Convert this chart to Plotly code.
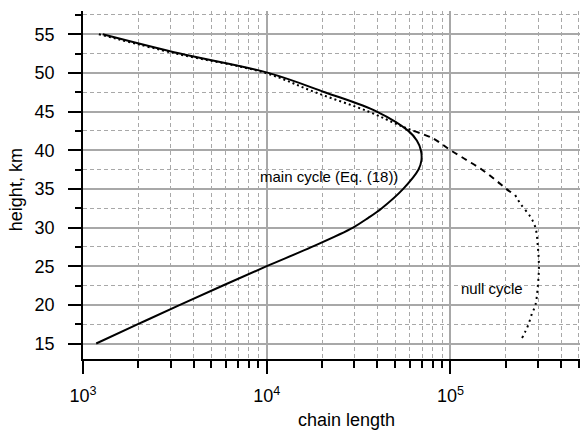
import plotly.graph_objects as go
import numpy as np

# ---- data ----
main_height = [15, 17.5, 20, 22.5, 25, 27.5, 30, 31.25, 32.5, 35, 37.5, 38.7, 40, 41.25, 42.5, 45, 47.5, 50, 52.5, 55]
main_length = [1180, 1990, 3370, 5780, 10000, 17600, 29500, 35700, 42300, 55300, 67000, 69500, 69000, 65600, 59000, 39700, 20700, 10200, 3370, 1280]

null_height = [55, 52.5, 50, 47.5, 45, 43.2, 42.5, 41.5, 40, 38.7, 37.5, 36.2, 35, 34.2, 33.1, 31.4, 30, 27.5, 25, 22.5, 20, 18.8, 17.5, 16.5, 15.7]
null_length = [1220, 3200, 9800, 18300, 35700, 53000, 62900, 80700, 100000, 123000, 148000, 175000, 201000, 225000, 240000, 272000, 290000, 299000, 303000, 299000, 290000, 277000, 266000, 255000, 245000]

x_tick_vals = [1e3, 1e4, 1e5]
x_tick_text = ["10<sup>3</sup>", "10<sup>4</sup>", "10<sup>5</sup>"]
x_title = "chain length"
y_title = "height, km"
label_main = "main cycle (Eq. (18))"
label_null = "null cycle"

FONT = "Liberation Sans, Arial, sans-serif"

minor_x = [m * 10 ** k for k in (3, 4, 5) for m in range(2, 10)]

fig = go.Figure()

# null cycle drawn in three segments with differing dash rhythm
seg1 = slice(0, 7)
seg2 = slice(6, 14)
seg3 = slice(13, len(null_height))
for sl, dash in ((seg1, "2px,3px"), (seg2, "6px,5px"), (seg3, "2px,4px")):
    fig.add_trace(go.Scatter(
        x=null_length[sl], y=null_height[sl], mode="lines",
        line=dict(color="black", width=2, dash=dash, shape="spline", smoothing=1),
        showlegend=False, hoverinfo="skip"))

fig.add_trace(go.Scatter(
    x=main_length, y=main_height, mode="lines",
    line=dict(color="black", width=2, shape="spline", smoothing=1),
    showlegend=False))

fig.update_xaxes(
    type="log", range=[3, 5.705], automargin=False,
    tickvals=x_tick_vals, ticktext=x_tick_text,
    ticks="outside", ticklen=13, tickwidth=1.5, tickcolor="black",
    showline=True, linecolor="black", linewidth=1.5,
    showgrid=True, gridcolor="#a8a8a8", gridwidth=1.5,
    zeroline=False, ticklabelstandoff=7,
    tickfont=dict(family=FONT, size=18, color="black"),
    minor=dict(tickvals=minor_x, ticks="outside", ticklen=7, tickwidth=1.5,
               tickcolor="black", showgrid=True, gridcolor="#a8a8a8",
               gridwidth=1, griddash="4px,3px"),
)
fig.update_yaxes(
    range=[13, 58], tick0=15, dtick=5, automargin=False,
    ticks="outside", ticklen=13, tickwidth=1.5, tickcolor="black",
    showline=True, linecolor="black", linewidth=1.5,
    showgrid=True, gridcolor="#a8a8a8", gridwidth=1.5,
    zeroline=False, ticklabelstandoff=10,
    tickfont=dict(family=FONT, size=18, color="black"),
    minor=dict(dtick=2.5, ticks="outside", ticklen=6, tickwidth=1.5,
               tickcolor="black", showgrid=True, gridcolor="#a8a8a8",
               gridwidth=1, griddash="4px,3px"),
)

ann_font = dict(family=FONT, size=15, color="black")
title_font = dict(family=FONT, size=18, color="black")
fig.update_layout(
    width=580, height=430,
    margin=dict(l=83, r=0, t=11, b=71),
    paper_bgcolor="white", plot_bgcolor="white",
    font=dict(family=FONT, color="black"),
    annotations=[
        dict(text=label_main, x=np.log10(21800), y=36.6, xref="x", yref="y",
             xanchor="center", yanchor="middle", showarrow=False, font=ann_font),
        dict(text=label_null, x=np.log10(168000), y=22.1, xref="x", yref="y",
             xanchor="center", yanchor="middle", showarrow=False, font=ann_font),
        dict(text=x_title, x=0.531, y=-0.174, xref="paper", yref="paper",
             xanchor="center", yanchor="middle", showarrow=False, font=title_font),
        dict(text=y_title, x=-0.1345, y=0.4856, xref="paper", yref="paper",
             xanchor="center", yanchor="middle", showarrow=False, textangle=-90,
             font=title_font),
    ],
)

fig.write_html("out.html", config={"displayModeBar": False},
               post_script="document.body.style.margin='0';document.body.style.padding='0';")
